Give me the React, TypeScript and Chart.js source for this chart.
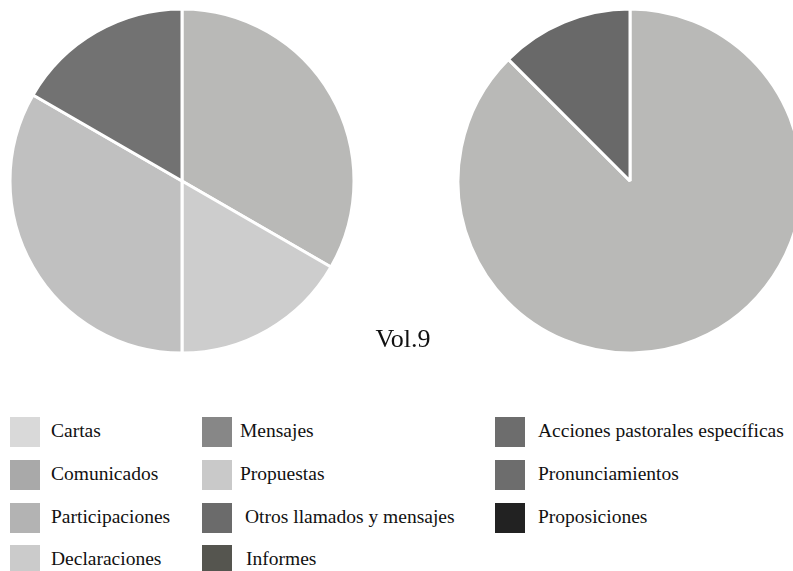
import React, { useEffect, useRef } from "react";
import { Chart, registerables } from "chart.js";

Chart.register(...registerables);

const categories = [
  "Cartas",
  "Comunicados",
  "Participaciones",
  "Declaraciones",
  "Mensajes",
  "Propuestas",
  "Otros llamados y mensajes",
  "Informes",
  "Acciones pastorales específicas",
  "Pronunciamientos",
  "Proposiciones",
];

const legendColors = [
  "#d9d9d9", "#a9a9a9", "#b3b3b3", "#cbcbcb", "#878787", "#c9c9c9",
  "#6b6b6b", "#55554f", "#6d6d6d", "#6d6d6d", "#222222",
];

const leftValues = [0, 0, 2, 1, 0, 2, 1, 0, 0, 0, 0];
const leftColors = [
  "#d9d9d9", "#a9a9a9", "#b9b9b7", "#cdcdcd", "#878787", "#c0c0c0",
  "#727272", "#55554f", "#6d6d6d", "#6d6d6d", "#222222",
];

const rightValues = [0, 0, 7, 0, 0, 0, 0, 0, 1, 0, 0];
const rightColors = [
  "#d9d9d9", "#a9a9a9", "#b9b9b7", "#cbcbcb", "#878787", "#c9c9c9",
  "#6b6b6b", "#55554f", "#696969", "#6d6d6d", "#222222",
];

const titleText = "Vol.9";

// legend layout (column-major, 4 rows)
const legendCols = [
  { box: 10, text: [51, 51, 51, 51] },
  { box: 202, text: [240, 240, 245, 246] },
  { box: 495, text: [538, 538, 538, 538] },
];
const legendRowTops = [417, 460, 503, 545];

function PieCanvas({ values, colors, left, top }: { values: number[]; colors: string[]; left: number; top: number }) {
  const ref = useRef<HTMLCanvasElement>(null);
  useEffect(() => {
    if (!ref.current) return;
    const chart = new Chart(ref.current, {
      type: "pie",
      data: {
        labels: categories,
        datasets: [
          {
            data: values,
            backgroundColor: colors,
            borderColor: "#ffffff",
            borderWidth: 3,
          },
        ],
      },
      options: {
        animation: false,
        responsive: false,
        radius: 172,
        layout: { padding: 0 },
        plugins: {
          legend: { display: false },
          tooltip: { enabled: false },
          title: { display: false },
        },
      },
    });
    return () => chart.destroy();
  }, []);
  return (
    <canvas
      ref={ref}
      width={360}
      height={360}
      style={{ position: "absolute", left, top, width: 360, height: 360 }}
    />
  );
}

export default function App() {
  return (
    <div
      style={{
        position: "fixed",
        left: 0,
        top: 0,
        width: 793,
        height: 571,
        overflow: "hidden",
        background: "#ffffff",
        fontFamily: "'Liberation Serif', 'DejaVu Serif', serif",
        color: "#111",
      }}
    >
      <PieCanvas values={leftValues} colors={leftColors} left={2} top={1} />
      <PieCanvas values={rightValues} colors={rightColors} left={450} top={1} />
      <div
        style={{
          position: "absolute",
          left: 303,
          width: 200,
          top: 324,
          textAlign: "center",
          fontSize: 26,
          lineHeight: "30px",
        }}
      >
        {titleText}
      </div>
      {categories.map((c, i) => {
        const col = Math.floor(i / 4);
        const row = i % 4;
        const L = legendCols[col];
        const top = legendRowTops[row];
        return (
          <React.Fragment key={c}>
            <div
              style={{
                position: "absolute",
                left: L.box,
                top,
                width: 30,
                height: 30,
                background: legendColors[i],
              }}
            />
            <div
              style={{
                position: "absolute",
                left: L.text[row],
                top: top + 2,
                fontSize: 19.5,
                lineHeight: "24px",
                whiteSpace: "nowrap",
              }}
            >
              {c}
            </div>
          </React.Fragment>
        );
      })}
    </div>
  );
}
